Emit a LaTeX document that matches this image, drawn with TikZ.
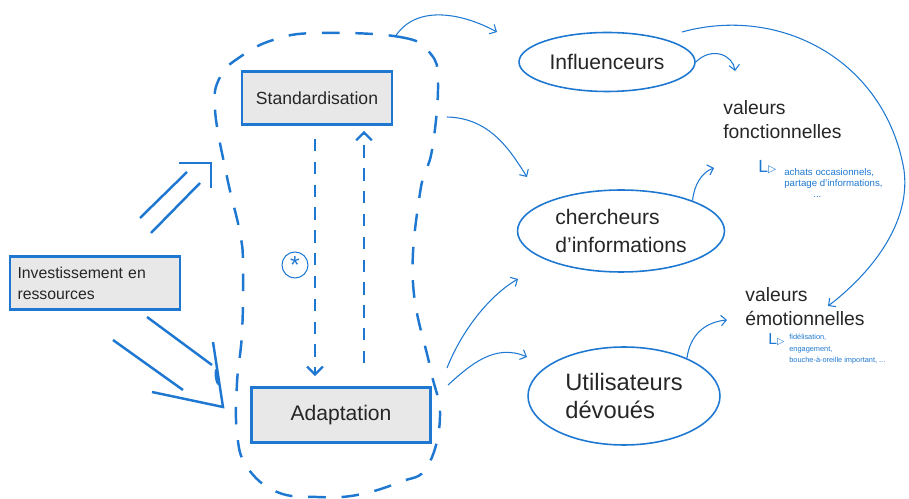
\documentclass[tikz,border=0pt]{standalone}
\usepackage{fontspec}
\setmainfont{Liberation Sans}
\newfontfamily\symfont{DejaVu Sans}
\usetikzlibrary{positioning, arrows.meta, shapes.geometric}
\definecolor{SketchBlue}{HTML}{1E78D2}
\definecolor{SketchGray}{HTML}{E8E8E8}
\definecolor{SketchInk}{HTML}{262626}

\begin{document}
\begin{tikzpicture}[
        x=0.02cm, y=-0.02cm,
        box/.style={
            rectangle, draw=SketchBlue, line width=1.6pt, fill=SketchGray,
            text=SketchInk, inner sep=3pt
        },
        group/.style={ellipse, draw=SketchBlue, line width=0.9pt, text=SketchInk, align=left, inner sep=0pt},
        value/.style={text=SketchInk, align=left, anchor=north west, inner sep=0pt, font=\fontsize{11}{13.5}\selectfont},
        detail/.style={text=SketchBlue, align=left, anchor=north west, inner sep=0pt},
        arrow/.style={SketchBlue, line width=0.6pt, -{Straight Barb[length=3pt, width=6pt]}},
        flow/.style={SketchBlue, line width=1.3pt, dash pattern=on 7pt off 6pt, -{Straight Barb[length=4.5pt, width=9pt]}},
        bigarrow/.style={SketchBlue, line width=1.4pt},
        blob/.style={SketchBlue, line width=1.4pt, dash pattern=on 10pt off 9pt}
    ]
    \useasboundingbox (0,0) rectangle (909,499);

    % Strategies
    \node (stand) [box, minimum width=3cm, minimum height=1.06cm, font=\fontsize{10}{12}\selectfont] at (317,98) {Standardisation};
    \node (adapt) [box, minimum width=3.58cm, minimum height=1.1cm, font=\fontsize{12}{14}\selectfont] at (341,415) {Adaptation};
    \node (invest) [box, minimum width=3.4cm, minimum height=1.06cm, text width=3.1cm, align=left,
        font=\fontsize{9}{12}\selectfont] at (95,283) {Investissement en\\ressources};

    % Dashed outline round both strategies
    \draw [blob] plot [smooth cycle, tension=0.7] coordinates {(317,33) (400,37) (430,53) (438,83) (432,150)
        (420,193) (413,283) (430,367) (440,417) (427,467) (400,482) (357,495) (317,497) (277,492) (247,467)
        (237,433) (237,383) (242,333) (243,267) (240,233) (227,177) (215,110) (220,77) (240,57) (273,40)};

    \draw [flow, shorten <=7.4pt, shorten >=5.7pt] (315,0 |- stand.south) -- (315,0 |- adapt.north);
    \draw [flow, shorten <=13pt, shorten >=2.8pt] (364,0 |- adapt.north) -- (364,0 |- stand.south);
    \node (star) [circle, draw=SketchBlue, line width=0.6pt, minimum size=0.52cm, inner sep=0pt,
        text=SketchBlue, font=\fontsize{14}{14}\selectfont] at (295,265) {*};

    % Double arrows from the investment
    \coordinate (uptip) at (211,163);
    \coordinate (lowtip) at (223,407);
    \draw [bigarrow] (140,218) -- (187,172);
    \draw [bigarrow] (151,233) -- (200,183);
    \draw [bigarrow, line width=0.8pt] (uptip) ++(-32,0) -- (uptip) -- ++(0,25);
    \draw [bigarrow] (147,317) -- (212,365);
    \draw [bigarrow] (113,340) -- (183,390);
    \draw [bigarrow] (152,392) -- (lowtip) -- (213,342);
    \fill [SketchBlue, rotate around={8:(217,377)}] (217,377) ellipse [x radius=2.2, y radius=8];

    % Consumer groups
    \node (infl) [group, minimum width=3.52cm, minimum height=1.18cm, font=\fontsize{12}{14}\selectfont] at (607,62) {Influenceurs};
    \node (cherch) [group, minimum width=4.14cm, minimum height=1.64cm, font=\fontsize{12}{16}\selectfont] at (621,231) {chercheurs\\d'informations};
    \node (util) [group, minimum width=3.84cm, minimum height=1.96cm, font=\fontsize{13.5}{16}\selectfont] at (624,396) {Utilisateurs\\dévoués};

    % Values
    \node (fonc) [value] at (723,100) {valeurs\\fonctionnelles};
    \node (foncL) [detail, font=\fontsize{10}{10}\selectfont] at (758,160) {L{\symfont\fontsize{6}{6}\selectfont ▷}};
    \node (foncD) [detail, font=\fontsize{5.5}{6.2}\selectfont] at (784,168) {achats occasionnels,\\partage d'informations,\\\hspace{3em}...};
    \node (emo) [value] at (745,287) {valeurs\\émotionnelles};
    \node (emoL) [detail, font=\fontsize{9}{9}\selectfont] at (768,333) {L{\symfont\fontsize{5.5}{5.5}\selectfont ▷}};
    \node (emoD) [detail, font=\fontsize{4.2}{6.6}\selectfont] at (789,334) {fidélisation,\\engagement,\\bouche-à-oreille important, ...};

    % Thin arrows
    \coordinate (blobtop) at (395,37);
    \coordinate (blobright) at (447,117);
    \coordinate (blobfoot1) at (447,368);
    \coordinate (blobfoot2) at (448,385);
    \coordinate (toinfl) at (497,32);
    \coordinate (tocherch) at (527,177);
    \coordinate (tofree) at (518,279);
    \coordinate (toutil) at (527,357);
    \coordinate (tofonc) at (735,71);
    \coordinate (toemo) at (828,306);
    \coordinate (fonctip) at (714,168);
    \coordinate (emotip) at (727,320);
    \draw [arrow] (blobtop) .. controls (415,5) and (460,12) .. (toinfl);
    \draw [arrow] (blobright) .. controls (490,118) and (510,150) .. (tocherch);
    \draw [arrow] (infl.east) .. controls (712,46) and (733,55) .. (tofonc);
    \draw [arrow] (682,32) .. controls (780,5) and (885,60) .. (904,170) .. controls (912,230) and (860,282) .. (toemo);
    \draw [arrow] (cherch.23) .. controls (694,185) and (702,172) .. (fonctip);
    \draw [arrow] (blobfoot1) .. controls (462,330) and (490,295) .. (tofree);
    \draw [arrow] (blobfoot2) .. controls (470,365) and (495,343) .. (toutil);
    \draw [arrow] (util.31) .. controls (690,335) and (705,322) .. (emotip);

\end{tikzpicture}
\end{document}
